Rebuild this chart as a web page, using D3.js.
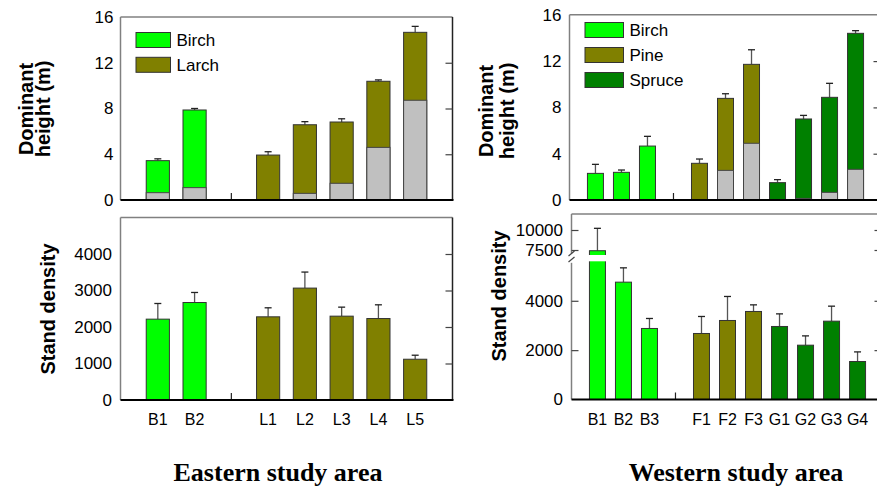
<!DOCTYPE html>
<html>
<head>
<meta charset="utf-8">
<script src="https://cdn.jsdelivr.net/npm/d3@7"></script>
<style>
  html, body { margin: 0; padding: 0; background: #fff; }
  svg { display: block; }
  text { font-family: "Liberation Sans", Arial, sans-serif; fill: #000; }
</style>
</head>
<body>
<script>
// ---------------- DATA ----------------
const eastCats      = ["B1", "B2", "gap", "L1", "L2", "L3", "L4", "L5"];
const eastSpecies   = ["Birch", "Birch", null, "Larch", "Larch", "Larch", "Larch", "Larch"];
const eastHeight    = [3.44, 7.87, null, 3.93, 6.58, 6.82, 10.38, 14.66];
const eastHeightErr = [0.16, 0.13, null, 0.29, 0.27, 0.28, 0.12, 0.52];
const eastGray      = [0.64, 1.08, null, 0, 0.58, 1.46, 4.60, 8.72];
const eastDensity   = [2215, 2671, null, 2279, 3066, 2297, 2232, 1117];
const eastDensityErr= [429, 275, null, 247, 439, 247, 376, 110];

const westCats      = ["B1", "B2", "B3", "gap", "F1", "F2", "F3", "G1", "G2", "G3", "G4"];
const westSpecies   = ["Birch", "Birch", "Birch", null, "Pine", "Pine", "Pine", "Spruce", "Spruce", "Spruce", "Spruce"];
const westHeight    = [2.30, 2.39, 4.66, null, 3.17, 8.78, 11.72, 1.50, 7.00, 8.87, 14.40];
const westHeightErr = [0.78, 0.20, 0.84, null, 0.37, 0.40, 1.26, 0.26, 0.31, 1.21, 0.23];
const westGray      = [0, 0, 0, null, 0, 2.56, 4.90, 0, 0.14, 0.66, 2.65];
const westDensity   = [7410, 4755, 2878, null, 2675, 3202, 3567, 2959, 2201, 3174, 1540];
const westDensityErr= [2800, 580, 405, null, 689, 973, 268, 511, 377, 608, 389];

const heightTicks      = [0, 4, 8, 12, 16];
const eastDensityTicks = [0, 1000, 2000, 3000, 4000];
const westDensityLowTicks  = [0, 2000, 4000];
const westDensityHighTicks = [7500, 10000];

const eastLegend = ["Birch", "Larch"];
const westLegend = ["Birch", "Pine", "Spruce"];
const speciesColor = { Birch: "#00ff00", Larch: "#808000", Pine: "#808000", Spruce: "#008000" };
const grayColor = "#c0c0c0";

const titles = { east: "Eastern study area", west: "Western study area" };

// ---------------- SETUP ----------------
const svg = d3.select("body").append("svg").attr("width", 877).attr("height", 489);
const FONT_TICK = 17, FONT_X = 16, FONT_LEG = 17, FONT_TITLE = 20;

function bandX(cats, x0, x1, pi, po) {
  return d3.scaleBand().domain(cats).range([x0, x1]).paddingInner(pi).paddingOuter(po);
}

function drawFrame(left, right, top, bottom, opts = {}) {
  const g = svg.append("g");
  g.append("line").attr("x1", left).attr("x2", right).attr("y1", top).attr("y2", top)
    .attr("stroke", "#808080").attr("stroke-width", 1.5);
  if (!opts.noLeft) {
    g.append("line").attr("x1", left).attr("x2", left).attr("y1", top).attr("y2", bottom)
      .attr("stroke", "#808080").attr("stroke-width", 1.5);
  }
  g.append("line").attr("x1", right).attr("x2", right).attr("y1", top).attr("y2", bottom)
    .attr("stroke", "#222").attr("stroke-width", 1.5);
  return g;
}

function yLabels(scale, ticks, xRight) {
  const ax = d3.axisLeft(scale).tickValues(ticks).tickSize(0).tickPadding(0).tickFormat(d3.format("d"));
  const g = svg.append("g").attr("transform", `translate(${xRight},0)`).call(ax);
  g.select(".domain").remove();
  g.selectAll("text").attr("font-size", FONT_TICK).style("font-family", '"Liberation Sans", Arial, sans-serif').attr("fill", "#000");
}

function innerTicks(scale, ticks, xPos, side) {
  const ax = (side === "right" ? d3.axisLeft(scale) : d3.axisRight(scale))
    .tickValues(ticks).tickSize(7).tickFormat("");
  const g = svg.append("g").attr("transform", `translate(${xPos},0)`).call(ax);
  g.select(".domain").remove();
  g.selectAll("line").attr("stroke", "#444").attr("stroke-width", 1.2);
}

function xAxis(x, yPos, withLabels) {
  const ax = d3.axisBottom(x).tickSizeInner(-7).tickSizeOuter(0).tickPadding(14)
    .tickFormat(d => (withLabels && d !== "gap") ? d : "");
  const g = svg.append("g").attr("transform", `translate(0,${yPos})`).call(ax);
  g.select(".domain").remove();
  g.selectAll("line").attr("stroke", "#222").attr("stroke-width", 1.2);
  g.selectAll("text").attr("font-size", FONT_X).style("font-family", '"Liberation Sans", Arial, sans-serif').attr("fill", "#000");
  return g;
}

function bars(x, y, cats, species, vals, errs, grays) {
  const g = svg.append("g");
  const bw = x.bandwidth();
  cats.forEach((c, i) => {
    if (vals[i] == null) return;
    const x0 = x(c);
    const yb = y(0);
    const yt = y(vals[i]), ye = y(vals[i] + errs[i]);
    const cx = x0 + bw / 2;
    g.append("line").attr("x1", cx).attr("x2", cx).attr("y1", yt).attr("y2", ye)
      .attr("stroke", "#555").attr("stroke-width", 1.3);
    g.append("line").attr("x1", cx - 3.5).attr("x2", cx + 3.5).attr("y1", ye).attr("y2", ye)
      .attr("stroke", "#222").attr("stroke-width", 1.3);
    g.append("rect").attr("x", x0).attr("y", yt).attr("width", bw).attr("height", yb - yt)
      .attr("fill", speciesColor[species[i]]).attr("stroke", "#333").attr("stroke-width", 1);
    if (grays && grays[i] > 0) {
      const yg = y(grays[i]);
      g.append("rect").attr("x", x0).attr("y", yg).attr("width", bw).attr("height", yb - yg)
        .attr("fill", grayColor).attr("stroke", "#444").attr("stroke-width", 1);
    }
  });
  return g;
}

function bottomLine(x0, x1, yPos) {
  svg.append("line").attr("x1", x0).attr("x2", x1).attr("y1", yPos).attr("y2", yPos)
    .attr("stroke", "#000").attr("stroke-width", 2);
}

function rotTitle(lines, xs, yc, size) {
  lines.forEach((t, i) => {
    svg.append("text").attr("transform", `translate(${xs[i]},${yc}) rotate(-90)`)
      .attr("text-anchor", "middle").attr("font-size", size).attr("font-weight", "bold").text(t);
  });
}

function legend(items, bx, by0, dy, bw, bh, tx) {
  const g = svg.append("g");
  items.forEach((s, i) => {
    const y = by0 + i * dy;
    g.append("rect").attr("x", bx).attr("y", y).attr("width", bw).attr("height", bh)
      .attr("fill", speciesColor[s]).attr("stroke", "#333").attr("stroke-width", 1);
    g.append("text").attr("x", tx).attr("y", y + bh / 2).attr("dy", "0.36em")
      .attr("font-size", FONT_LEG).text(s);
  });
}

// ---------------- EAST ----------------
const xE = bandX(eastCats, 120.5, 452.5, 0.37, 0.70);
const yEH = d3.scaleLinear().domain([0, 16]).range([200, 17]);
const yED = d3.scaleLinear().domain([0, 5000]).range([400, 217.5]);

drawFrame(120.5, 452.5, 17, 200);
xAxis(xE, 200, false);
bars(xE, yEH, eastCats, eastSpecies, eastHeight, eastHeightErr, eastGray);
bottomLine(120.5, 453.5, 200);
yLabels(yEH, heightTicks, 113.5);
innerTicks(yEH, [4, 8, 12], 452.5, "right");
legend(eastLegend, 136, 32.5, 24.8, 34.5, 15, 176.5);
rotTitle(["Dominant", "height (m)"], [33, 50], 109, FONT_TITLE);

drawFrame(120.5, 452.5, 217.5, 400);
xAxis(xE, 400, true);
bars(xE, yED, eastCats, eastSpecies, eastDensity, eastDensityErr, null);
bottomLine(120.5, 453.5, 400);
yLabels(yED, eastDensityTicks, 112);
innerTicks(yED, [1000, 2000, 3000, 4000], 452.5, "right");
rotTitle(["Stand density"], [55], 309, FONT_TITLE);

// ---------------- WEST ----------------
const xW = bandX(westCats, 569.5, 881.5, 0.385, 0.69);
const yWH = d3.scaleLinear().domain([0, 16]).range([200, 14.8]);

drawFrame(569.5, 881.5, 14.8, 200);
xAxis(xW, 200, false);
bars(xW, yWH, westCats, westSpecies, westHeight, westHeightErr, westGray);
bottomLine(569.5, 877, 200);
yLabels(yWH, heightTicks, 561.5);
innerTicks(yWH, [4, 8, 12], 880.5, "right");
legend(westLegend, 585, 22.5, 25, 38.5, 15, 629.5);
rotTitle(["Dominant", "height (m)"], [493, 513.5], 111, FONT_TITLE);

// broken density axis
const breakLow = 5600, breakHigh = 6875;
const yWLow = d3.scaleLinear().domain([0, breakLow]).range([399.5, 261.3]);
const yWHigh = d3.scaleLinear().domain([breakHigh, 12000]).range([255, 214]);
const yWD = v => (v <= breakLow ? yWLow(v) : yWHigh(v));

const frameW = drawFrame(571.5, 881.5, 214, 399.5, { noLeft: true });
frameW.append("line").attr("x1", 571.5).attr("x2", 571.5).attr("y1", 214).attr("y2", yWHigh(breakHigh) - 1.5)
  .attr("stroke", "#808080").attr("stroke-width", 1.5);
frameW.append("line").attr("x1", 571.5).attr("x2", 571.5).attr("y1", yWLow(breakLow) + 1.5).attr("y2", 399.5)
  .attr("stroke", "#808080").attr("stroke-width", 1.5);
[-1.5, 4.5].forEach(d => {
  frameW.append("line").attr("x1", 568.5).attr("x2", 574.5)
    .attr("y1", yWHigh(breakHigh) + 2.5 + d).attr("y2", yWHigh(breakHigh) - 2.5 + d)
    .attr("stroke", "#444").attr("stroke-width", 1.2);
});

const xW2 = bandX(westCats, 571.5, 883.5, 0.385, 0.69);
xAxis(xW2, 399.5, true);
const bg = svg.append("g");
westCats.forEach((c, i) => {
  if (westDensity[i] == null) return;
  const bw = xW2.bandwidth(), x0 = xW2(c), cx = x0 + bw / 2;
  const yt = yWD(westDensity[i]), ye = yWD(westDensity[i] + westDensityErr[i]);
  bg.append("line").attr("x1", cx).attr("x2", cx).attr("y1", yt).attr("y2", ye)
    .attr("stroke", "#555").attr("stroke-width", 1.3);
  bg.append("line").attr("x1", cx - 3.5).attr("x2", cx + 3.5).attr("y1", ye).attr("y2", ye)
    .attr("stroke", "#222").attr("stroke-width", 1.3);
  bg.append("rect").attr("x", x0).attr("y", yt).attr("width", bw).attr("height", yWD(0) - yt)
    .attr("fill", speciesColor[westSpecies[i]]).attr("stroke", "#333").attr("stroke-width", 1);
  if (westDensity[i] > breakLow) {
    bg.append("rect").attr("x", x0 - 1.5).attr("y", yWHigh(breakHigh))
      .attr("width", bw + 3).attr("height", yWLow(breakLow) - yWHigh(breakHigh)).attr("fill", "#fff");
  }
});
bottomLine(571.5, 877, 399.5);
yLabels(yWLow, westDensityLowTicks, 563);
yLabels(yWHigh, westDensityHighTicks, 563);
innerTicks(yWLow, [2000, 4000], 571.5, "left");
innerTicks(yWHigh, westDensityHighTicks, 571.5, "left");
innerTicks(yWLow, [2000, 4000], 881.5, "right");
innerTicks(yWHigh, westDensityHighTicks, 881.5, "right");
rotTitle(["Stand density"], [506], 296, FONT_TITLE);

// ---------------- AREA TITLES ----------------
svg.append("text").attr("x", 278).attr("y", 481).attr("text-anchor", "middle")
  .style("font-family", '"Liberation Serif", "Times New Roman", serif')
  .attr("font-size", 26).attr("font-weight", "bold").text(titles.east);
svg.append("text").attr("x", 736).attr("y", 481).attr("text-anchor", "middle")
  .style("font-family", '"Liberation Serif", "Times New Roman", serif')
  .attr("font-size", 26).attr("font-weight", "bold").text(titles.west);
</script>
</body>
</html>
